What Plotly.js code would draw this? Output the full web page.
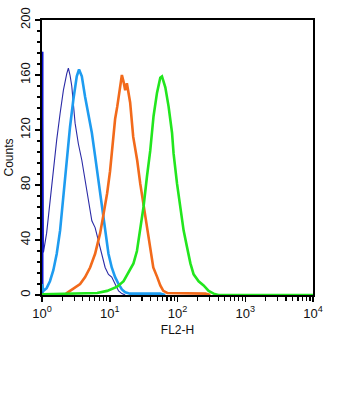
<!DOCTYPE html>
<html>
<head>
<meta charset="utf-8">
<script src="https://cdn.plot.ly/plotly-3.0.1.min.js"></script>
<style>html,body{margin:0;padding:0;background:#fff;}#chart{width:354px;height:400px;}</style>
</head>
<body>
<div id="chart"></div>
<script>
// FL2-H values (x) and counts (y)
const navyX = [1.0, 1.05, 1.17, 1.31, 1.47, 1.65, 1.85, 2.07, 2.32, 2.45, 2.59, 2.75, 3.08, 3.44, 3.87, 4.33, 4.84, 5.44, 6.08, 6.81, 7.64, 8.55, 9.57, 10.7, 12.0, 13.5, 15.1, 16.9];
const navyY = [177, 31, 45, 69, 91, 113, 132, 149, 161, 165, 160, 152, 125, 110, 98, 84, 69, 54, 49, 40, 30, 20, 15, 13, 8, 3, 1, 0];

const blueX = [1.0, 1.05, 1.17, 1.31, 1.47, 1.65, 1.85, 2.07, 2.32, 2.59, 2.90, 3.26, 3.52, 3.87, 4.33, 4.84, 5.44, 6.08, 6.81, 7.64, 8.55, 9.57, 10.7, 12.0, 13.5, 15.1, 16.9, 19.9, 55.7, 66];
const blueY = [8, 3, 5, 10, 18, 30, 47, 74, 98, 122, 142, 159, 164, 159, 144, 132, 118, 101, 84, 67, 47, 30, 20, 13, 8, 4, 2, 1, 1, 0];

const orangeX = [2.26, 2.59, 3.08, 3.65, 4.33, 5.13, 6.08, 7.21, 7.98, 9.15, 10.1, 11.2, 12.0, 12.9, 13.5, 14.3, 15.1, 16.0, 16.9, 17.9, 18.9, 20.0, 22.2, 25.4, 28.2, 31.2, 35.8, 39.6, 43.9, 50.2, 55.7, 61.7, 70.6, 258, 306];
const orangeY = [1, 3, 5, 8, 13, 20, 30, 45, 57, 74, 90, 112, 128, 137, 144, 154, 160, 155, 149, 154, 148, 140, 115, 98, 81, 67, 47, 32, 20, 13, 7, 3, 1.5, 1, 0];

const greenX = [1.0, 3.65, 6.51, 9.15, 12.9, 16.0, 20.0, 22.4, 25.2, 28.2, 31.5, 35.4, 39.6, 44.3, 49.8, 55.7, 59.0, 66.1, 73.9, 83.0, 87.5, 98.4, 110, 123, 138, 155, 173, 205, 243, 288, 342, 401, 10000];
const greenY = [0.5, 1, 1.5, 3, 6, 10, 18, 23, 32, 47, 64, 86, 105, 130, 147, 158, 159, 151, 137, 118, 103, 81, 62, 47, 35, 23, 15, 10, 7, 3, 1, 0, 0];

const xTickVals = [1, 10, 100, 1000, 10000];
const xTickText = ['10<sup>0</sup>', '10<sup>1</sup>', '10<sup>2</sup>', '10<sup>3</sup>', '10<sup>4</sup>'];

const FONT = 'Liberation Sans, Arial, Helvetica, sans-serif';

const traces = [
  {x: navyX, y: navyY, mode: 'lines', line: {color: '#2a2aa6', width: 1.1}, hoverinfo: 'skip'},
  {x: [navyX[0], navyX[0]], y: [0, navyY[0]], mode: 'lines', line: {color: '#0a10d0', width: 3}, hoverinfo: 'skip'},
  {x: blueX, y: blueY, mode: 'lines', line: {color: '#1e9cf0', width: 2.6}, hoverinfo: 'skip'},
  {x: orangeX, y: orangeY, mode: 'lines', line: {color: '#f26a1b', width: 2.6}, hoverinfo: 'skip'},
  {x: greenX, y: greenY, mode: 'lines', line: {color: '#22e61e', width: 2.6}, hoverinfo: 'skip'}
];

const layout = {
  width: 354, height: 400,
  margin: {l: 42, r: 41, t: 20, b: 105},
  paper_bgcolor: '#fff', plot_bgcolor: '#fff',
  showlegend: false,
  font: {family: FONT, size: 13, color: '#111'},
  xaxis: {
    type: 'log', range: [0, 4],
    tickvals: xTickVals, ticktext: xTickText,
    ticks: 'outside', ticklen: 5, tickwidth: 1.5, tickcolor: '#000',
    minor: {dtick: 'D1', ticks: 'outside', ticklen: 4, tickwidth: 1.2, tickcolor: '#000', showgrid: false},
    showline: true, linecolor: '#000', linewidth: 2, mirror: true,
    showgrid: false, zeroline: false,
    tickfont: {family: FONT, size: 13, color: '#111'},
    title: {text: 'FL2-H', font: {family: FONT, size: 12, color: '#111'}, standoff: 6}
  },
  yaxis: {
    range: [0, 200], dtick: 40, tick0: 0,
    ticks: 'outside', ticklen: 5, tickwidth: 1.5, tickcolor: '#000',
    minor: {dtick: 8, ticks: 'outside', ticklen: 3, tickwidth: 1.2, tickcolor: '#000', showgrid: false},
    tickangle: -90,
    showline: true, linecolor: '#000', linewidth: 2, mirror: true,
    showgrid: false, zeroline: false,
    tickfont: {family: FONT, size: 13, color: '#111'},
    title: {text: 'Counts', font: {family: FONT, size: 12, color: '#111'}, standoff: 2}
  }
};

Plotly.newPlot('chart', traces, layout, {displayModeBar: false, staticPlot: true});
</script>
</body>
</html>
